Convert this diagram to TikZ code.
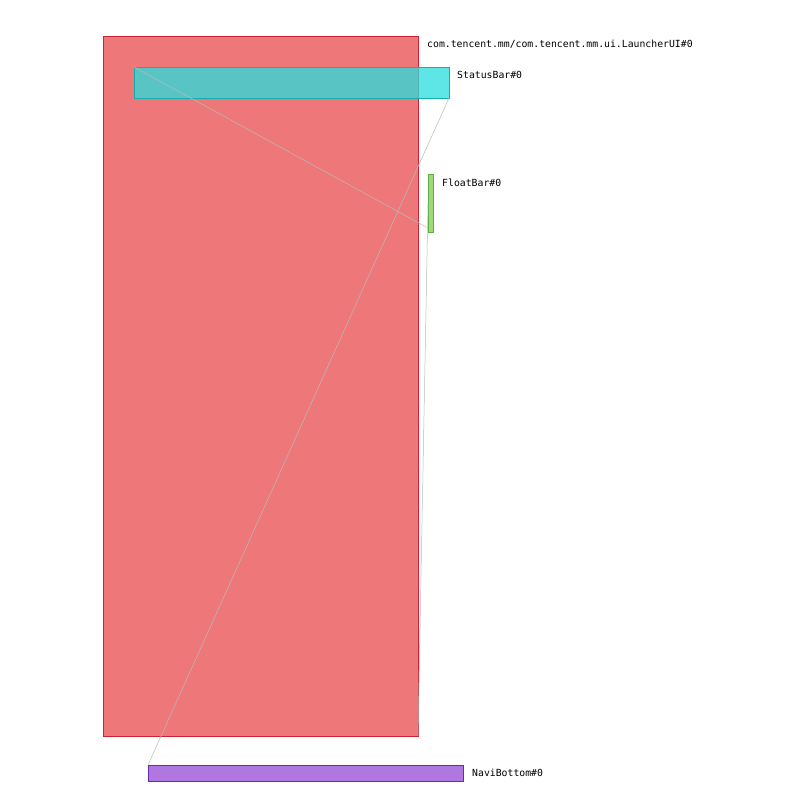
\documentclass[tikz,border=0pt]{standalone}
\usepackage{fontspec}
\setmonofont{DejaVu Sans Mono}
\usepackage{tikz}
\usetikzlibrary{positioning}
\definecolor{launcherfill}{RGB}{238,119,121}
\definecolor{launcherdraw}{RGB}{204,34,51}
\definecolor{statusfill}{RGB}{40,222,222}
\definecolor{statusdraw}{RGB}{20,176,176}
\definecolor{floatfill}{RGB}{160,216,128}
\definecolor{floatdraw}{RGB}{96,176,64}
\definecolor{navifill}{RGB}{176,119,224}
\definecolor{navidraw}{RGB}{106,42,176}

\begin{document}
\begin{tikzpicture}[x=1pt,y=-1pt,
  view/.style={draw,rectangle,inner sep=0pt,outer sep=0pt,line width=0.8pt},
  viewlabel/.style={anchor=west,inner sep=0pt,font=\ttfamily\fontsize{9.8}{11}\selectfont},
  link/.style={draw=black!27,line width=0.5pt}
]
\useasboundingbox (0,0) rectangle (812,786);
\node[view,fill=launcherfill,draw=launcherdraw,minimum width=315pt,minimum height=700pt] (launcher) at (260.5,386) {};
\node[view,fill=statusfill,draw=statusdraw,fill opacity=0.75,minimum width=315pt,minimum height=31pt] (status) at (291.5,82.5) {};
\node[view,fill=floatfill,draw=floatdraw,minimum width=5pt,minimum height=58pt] (float) at (430.5,203) {};
\node[view,fill=navifill,draw=navidraw,minimum width=315pt,minimum height=16pt] (navi) at (305.5,773) {};
% labels
\node[viewlabel] at ([xshift=9pt,yshift=-8pt]launcher.north east) {com.tencent.mm/com.tencent.mm.ui.LauncherUI\#0};
\node[viewlabel] at ([xshift=8pt,yshift=-8pt]status.north east) {StatusBar\#0};
\node[viewlabel] at ([xshift=9pt,yshift=-9pt]float.north east) {FloatBar\#0};
\node[viewlabel] at ([xshift=9pt,yshift=-8pt]navi.north east) {NaviBottom\#0};
% links
\draw[link] (status.north west) -- ([yshift=4pt]float.south west);
\draw[link] (status.south east) -- (navi.north west);
\draw[link] (float.west) -- (launcher.south east);
\end{tikzpicture}
\end{document}
